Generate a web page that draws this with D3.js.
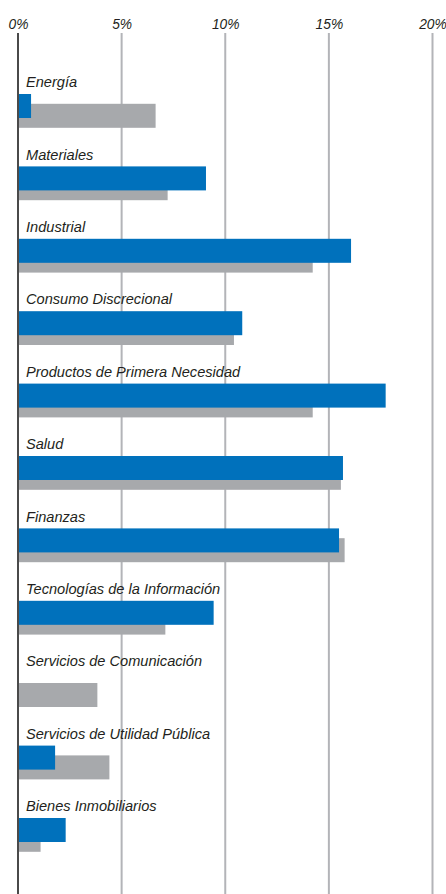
<!DOCTYPE html>
<html>
<head>
<meta charset="utf-8">
<script src="https://cdn.jsdelivr.net/npm/d3@7"></script>
<style>
  html, body { margin: 0; padding: 0; background: #fff; }
  svg { display: block; }
  text { font-family: "Liberation Sans", Arial, sans-serif; font-style: italic; fill: #231f20; }
</style>
</head>
<body>
<div id="chart"></div>
<script>
const categories = [
  "Energía", "Materiales", "Industrial", "Consumo Discrecional",
  "Productos de Primera Necesidad", "Salud", "Finanzas",
  "Tecnologías de la Información", "Servicios de Comunicación",
  "Servicios de Utilidad Pública", "Bienes Inmobiliarios"
];
const seriesBlue = [0.63, 9.07, 16.07, 10.82, 17.74, 15.68, 15.49, 9.44, 0, 1.79, 2.30];
const seriesGray = [6.64, 7.22, 14.22, 10.42, 14.22, 15.58, 15.76, 7.11, 3.83, 4.41, 1.09];
const tickValues = [0, 5, 10, 15, 20];
const tickLabels = ["0%", "5%", "10%", "15%", "20%"];

const W = 446, H = 894;
const svg = d3.select("#chart").append("svg").attr("width", W).attr("height", H);

const x = d3.scaleLinear().domain([0, 20]).range([18, 432.5]);
const y = d3.scaleBand().domain(categories).range([94, 94 + 72.4 * categories.length]).paddingInner(0).paddingOuter(0);

const barH = 24, grayOffset = 9.8;

// grid lines
svg.append("g").selectAll("line").data(tickValues.slice(1)).join("line")
  .attr("x1", d => x(d)).attr("x2", d => x(d))
  .attr("y1", 33).attr("y2", H)
  .attr("stroke", "#b3b4b8").attr("stroke-width", 2);

// tick labels via axis
const axis = d3.axisTop(x).tickValues(tickValues)
  .tickFormat((d, i) => tickLabels[i]).tickSize(0).tickPadding(0);
const gAxis = svg.append("g").attr("transform", "translate(0,29)").call(axis);
gAxis.select(".domain").remove();
gAxis.selectAll("text")
  .attr("y", 0).attr("dy", 0)
  .style("font-family", "'Liberation Sans', Arial, sans-serif")
  .style("font-style", "italic")
  .style("font-size", "13.8px")
  .attr("fill", "#231f20");

const rows = categories.map((c, i) => ({ c, blue: seriesBlue[i], gray: seriesGray[i] }));

// gray bars
svg.append("g").selectAll("rect").data(rows).join("rect")
  .attr("x", x(0)).attr("y", d => y(d.c) + grayOffset)
  .attr("width", d => x(d.gray) - x(0)).attr("height", barH)
  .attr("fill", "#a7a9ac");

// blue bars
svg.append("g").selectAll("rect").data(rows.filter(d => d.blue > 0)).join("rect")
  .attr("x", x(0)).attr("y", d => y(d.c))
  .attr("width", d => x(d.blue) - x(0)).attr("height", barH)
  .attr("fill", "#0071bc");

// zero line
svg.append("line")
  .attr("x1", x(0)).attr("x2", x(0)).attr("y1", 33).attr("y2", H)
  .attr("stroke", "#4a4a4a").attr("stroke-width", 2);

// category labels
svg.append("g").selectAll("text").data(rows).join("text")
  .attr("x", 26).attr("y", d => y(d.c) - 6.8)
  .style("font-size", "14.6px")
  .text(d => d.c);
</script>
</body>
</html>
